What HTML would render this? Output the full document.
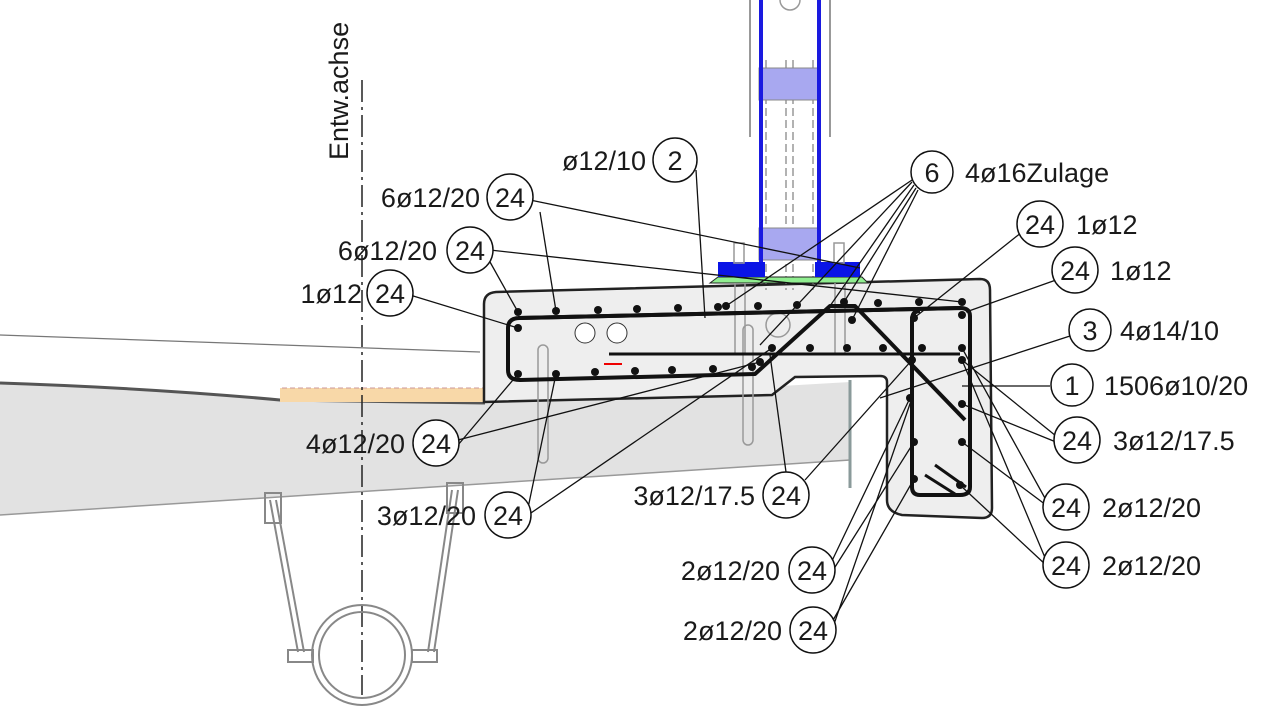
<!DOCTYPE html><html><head><meta charset="utf-8"><style>
html,body{margin:0;padding:0;background:#fff}
svg{display:block}
text{font-family:"Liberation Sans",sans-serif;font-size:27px;fill:#1a1a1a}
</style></head><body>
<svg width="1280" height="720" viewBox="0 0 1280 720" xmlns="http://www.w3.org/2000/svg">
<!-- deck -->
<path d="M0,383 Q150,388 280,400 L485,403 L850,382 L850,460 L0,515 Z" fill="#e2e2e2"/>
<path d="M0,383 Q150,388 280,400 L485,403" fill="none" stroke="#555" stroke-width="3"/>
<line x1="850" y1="460" x2="0" y2="515" stroke="#999" stroke-width="1.5"/>
<line x1="850" y1="380" x2="850" y2="488" stroke="#8a9a9a" stroke-width="3"/>
<rect x="280" y="388" width="205" height="14" fill="#f8d8a8"/>
<line x1="282" y1="388" x2="485" y2="388" stroke="#c99" stroke-dasharray="5,3"/>
<line x1="0" y1="335" x2="480" y2="352" stroke="#777" stroke-width="1.2"/>
<!-- concrete -->
<path d="M496,292 L980,279 Q990,279 990,290 L992,508 Q992,518 982,518 L902,515 Q887,512 887,500 L887,382 Q887,376 880,376 L795,377 L772,395 L484,402 L484,304 Q484,293 496,292 Z" fill="#eeeeee" stroke="#222" stroke-width="2.5"/>
<!-- column -->
<line x1="750" y1="0" x2="750" y2="137" stroke="#999" stroke-width="2"/>
<line x1="830" y1="0" x2="830" y2="137" stroke="#999" stroke-width="2"/>
<rect x="760" y="0" width="60" height="262" fill="#fff"/>
<g stroke="#999" stroke-width="1.5" stroke-dasharray="8,4" fill="none">
<line x1="766" y1="60" x2="766" y2="290"/><line x1="786" y1="60" x2="786" y2="290"/>
<line x1="793" y1="60" x2="793" y2="290"/><line x1="813" y1="60" x2="813" y2="290"/></g>
<rect x="759" y="68" width="61" height="32" fill="#a8a8f0" stroke="#888"/>
<rect x="759" y="228" width="61" height="32" fill="#a8a8f0" stroke="#888"/>
<line x1="761" y1="0" x2="761" y2="262" stroke="#1a1ae0" stroke-width="4"/>
<line x1="819" y1="0" x2="819" y2="262" stroke="#1a1ae0" stroke-width="4"/>
<circle cx="790" cy="0" r="10" fill="none" stroke="#999" stroke-width="1.5"/>
<path d="M710,283 L718,277 L862,277 L868,283 Z" fill="#90ee90" stroke="#222" stroke-width="1"/>
<rect x="718" y="262" width="47" height="15" fill="#0a14e6"/>
<rect x="815" y="262" width="45" height="15" fill="#0a14e6"/>
<g stroke="#999" stroke-width="1.5" fill="none">
<rect x="734" y="243" width="10" height="20"/><rect x="834" y="243" width="10" height="20"/>
<line x1="735" y1="283" x2="735" y2="355"/><line x1="745" y1="283" x2="745" y2="355"/>
<line x1="835" y1="283" x2="835" y2="355"/><line x1="845" y1="283" x2="845" y2="355"/>
<rect x="538" y="345" width="10" height="118" rx="5"/>
<rect x="743" y="325" width="10" height="120" rx="5"/>
<circle cx="778" cy="325" r="12"/></g>
<circle cx="585" cy="333" r="10" fill="#fff" stroke="#333"/>
<circle cx="617" cy="333" r="10" fill="#fff" stroke="#333"/>
<line x1="604" y1="364" x2="622" y2="364" stroke="#e00" stroke-width="2"/>
<!-- rebar -->
<g fill="none" stroke="#111" stroke-width="4" stroke-linejoin="round">
<path d="M520,318 L960,308 Q970,308 970,316 L970,487 Q970,495 960,495 L920,495 Q912,495 912,487 L912,320 Q912,311 920,311"/>
<path d="M520,318 Q508,318 508,328 L508,370 Q508,380 520,380 L755,374 L830,306 L855,306 L965,420"/>
<path d="M518,318 L960,308" />
<line x1="609" y1="354" x2="960" y2="354" stroke-width="3"/>
<line x1="935" y1="465" x2="966" y2="487" stroke-width="3"/>
<line x1="925" y1="475" x2="955" y2="494" stroke-width="3"/>
</g>
<g fill="#111">
<circle cx="518" cy="312" r="4"/><circle cx="556" cy="311" r="4"/><circle cx="598" cy="310" r="4"/><circle cx="637" cy="309" r="4"/><circle cx="678" cy="308" r="4"/><circle cx="718" cy="307" r="4"/><circle cx="726" cy="306" r="4"/><circle cx="758" cy="306" r="4"/><circle cx="797" cy="305" r="4"/><circle cx="844" cy="302" r="4"/><circle cx="878" cy="303" r="4"/><circle cx="919" cy="302" r="4"/><circle cx="962" cy="302" r="4"/>
<circle cx="518" cy="328" r="4"/><circle cx="518" cy="374" r="4"/><circle cx="556" cy="374" r="4"/><circle cx="595" cy="372" r="4"/><circle cx="635" cy="371" r="4"/><circle cx="672" cy="370" r="4"/><circle cx="713" cy="369" r="4"/><circle cx="752" cy="367" r="4"/><circle cx="760" cy="362" r="4"/>
<circle cx="772" cy="348" r="4"/><circle cx="810" cy="348" r="4"/><circle cx="847" cy="348" r="4"/><circle cx="883" cy="348" r="4"/><circle cx="922" cy="348" r="4"/><circle cx="962" cy="348" r="4"/>
<circle cx="852" cy="320" r="4"/><circle cx="914" cy="318" r="4"/><circle cx="962" cy="315" r="4"/><circle cx="912" cy="360" r="4"/><circle cx="962" cy="360" r="4"/>
<circle cx="910" cy="398" r="4"/><circle cx="962" cy="404" r="4"/><circle cx="914" cy="442" r="4"/><circle cx="962" cy="442" r="4"/><circle cx="914" cy="479" r="4"/><circle cx="960" cy="485" r="4"/>
</g>
<!-- leaders -->
<g stroke="#111" stroke-width="1.3" fill="none">
<line x1="696" y1="170" x2="705" y2="318"/>
<line x1="530" y1="200" x2="860" y2="268"/><line x1="540" y1="212" x2="556" y2="311"/>
<line x1="490" y1="250" x2="962" y2="302"/><line x1="490" y1="262" x2="518" y2="312"/>
<line x1="410" y1="295" x2="518" y2="328"/>
<line x1="458" y1="440" x2="760" y2="362"/><line x1="458" y1="445" x2="518" y2="374"/>
<line x1="528" y1="508" x2="556" y2="374"/><line x1="528" y1="515" x2="772" y2="348"/>
<line x1="786" y1="472" x2="770" y2="355"/><line x1="805" y1="480" x2="912" y2="360"/>
<line x1="830" y1="565" x2="910" y2="398"/><line x1="830" y1="575" x2="914" y2="442"/>
<line x1="832" y1="622" x2="914" y2="479"/><line x1="832" y1="630" x2="912" y2="398"/>
<line x1="912" y1="180" x2="726" y2="306"/><line x1="912" y1="182" x2="760" y2="345"/><line x1="914" y1="185" x2="830" y2="306"/><line x1="916" y1="188" x2="844" y2="302"/><line x1="918" y1="190" x2="852" y2="320"/>
<line x1="1022" y1="232" x2="914" y2="318"/>
<line x1="1056" y1="280" x2="966" y2="312"/>
<line x1="1070" y1="336" x2="880" y2="398"/>
<line x1="1050" y1="386" x2="962" y2="386"/>
<line x1="1056" y1="436" x2="962" y2="360"/><line x1="1056" y1="442" x2="962" y2="404"/>
<line x1="1046" y1="500" x2="962" y2="348"/><line x1="1046" y1="505" x2="962" y2="442"/>
<line x1="1046" y1="560" x2="962" y2="360"/><line x1="1046" y1="565" x2="960" y2="485"/>
</g>
<!-- axis -->
<line x1="362" y1="80" x2="362" y2="695" stroke="#222" stroke-width="1.5" stroke-dasharray="22,5,3,5"/>
<text transform="translate(348,160) rotate(-90)">Entw.achse</text>
<!-- hanger -->
<g stroke="#888" stroke-width="2" fill="none">
<line x1="270" y1="500" x2="298" y2="652"/><line x1="276" y1="500" x2="304" y2="652"/>
<line x1="452" y1="490" x2="428" y2="652"/><line x1="458" y1="490" x2="434" y2="652"/>
<rect x="265" y="493" width="16" height="30"/><rect x="447" y="483" width="16" height="30"/>
<circle cx="362" cy="655" r="50"/><circle cx="362" cy="655" r="43"/>
<rect x="288" y="650" width="25" height="12"/><rect x="412" y="650" width="25" height="12"/>
</g>
<!-- labels -->
<g fill="#fff" stroke="#111" stroke-width="1.5">
<circle cx="675" cy="160" r="22"/><circle cx="510" cy="197" r="23"/><circle cx="470" cy="250" r="23"/><circle cx="390" cy="293" r="23"/>
<circle cx="436" cy="443" r="23"/><circle cx="508" cy="515" r="23"/><circle cx="786" cy="495" r="23"/><circle cx="812" cy="570" r="23"/><circle cx="813" cy="630" r="23"/>
<circle cx="932" cy="172" r="21"/><circle cx="1040" cy="224" r="23"/><circle cx="1075" cy="270" r="23"/><circle cx="1090" cy="330" r="21"/><circle cx="1072" cy="385" r="21"/>
<circle cx="1077" cy="440" r="23"/><circle cx="1066" cy="507" r="23"/><circle cx="1066" cy="565" r="23"/>
</g>
<g text-anchor="middle">
<text x="675" y="170">2</text><text x="510" y="207">24</text><text x="470" y="260">24</text><text x="390" y="303">24</text>
<text x="436" y="453">24</text><text x="508" y="525">24</text><text x="786" y="505">24</text><text x="812" y="580">24</text><text x="813" y="640">24</text>
<text x="932" y="182">6</text><text x="1040" y="234">24</text><text x="1075" y="280">24</text><text x="1090" y="340">3</text><text x="1072" y="395">1</text>
<text x="1077" y="450">24</text><text x="1066" y="517">24</text><text x="1066" y="575">24</text>
</g>
<g text-anchor="end">
<text x="646" y="170">ø12/10</text><text x="480" y="207">6ø12/20</text><text x="437" y="260">6ø12/20</text><text x="362" y="303">1ø12</text>
<text x="405" y="453">4ø12/20</text><text x="476" y="525">3ø12/20</text><text x="755" y="505">3ø12/17.5</text><text x="780" y="580">2ø12/20</text><text x="782" y="640">2ø12/20</text>
</g>
<text x="965" y="182">4ø16Zulage</text><text x="1076" y="234">1ø12</text><text x="1110" y="280">1ø12</text><text x="1120" y="340">4ø14/10</text>
<text x="1104" y="395">1506ø10/20</text><text x="1113" y="450">3ø12/17.5</text><text x="1102" y="517">2ø12/20</text><text x="1102" y="575">2ø12/20</text>
</svg>
</body></html>
